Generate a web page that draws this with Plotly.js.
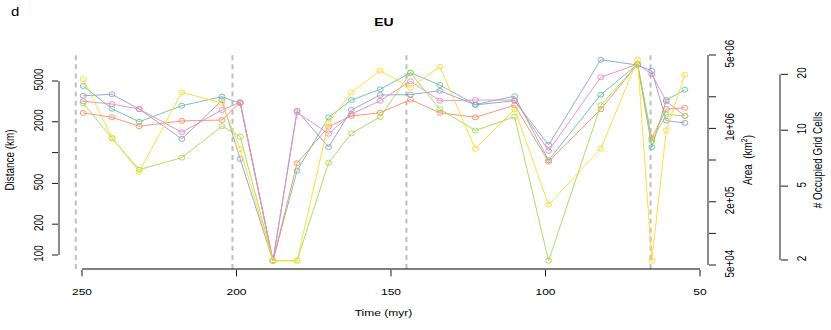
<!DOCTYPE html>
<html><head><meta charset="utf-8">
<script src="https://cdn.plot.ly/plotly-3.0.1.min.js"></script>
<style>
html,body{margin:0;padding:0;background:#fff;overflow:hidden;}
#wrap{width:831px;height:330px;overflow:hidden;position:relative;background:#fff;}
#chart{width:831px;height:400px;transform:scaleY(0.825);transform-origin:0 0;}
</style></head><body>
<div id="wrap"><div id="chart"></div></div>
<script>
// ---- data (time in myr, distance in km) ----
const time = [249.6, 240.3, 231.5, 217.7, 204.7, 198.8, 188.2, 180.4, 170.2, 162.8, 153.5,
              143.7, 134.2, 122.7, 110.0, 99.0, 82.1, 70.2, 65.6, 60.9, 54.9];
const tealVals   = [4470, 2680, 2000, 2870, 3520, 3030, 88, 666, 2210, 3260, 4150,
                    6030, 4570, 2950, 3550, 841, 3680, 7300, 1130, 3260, 4110];
const orangeVals = [2440, 2210, 1810, 2040, 2080, 3100, 88, 787, 1790, 2280, 2450,
                    3290, 2450, 2210, 2900, 815, 2650, 7300, 1380, 2660, 2740];
const blueVals   = [3590, 3710, 2660, 1360, 3240, 866, 88, 2560, 1130, 2610, 3650,
                    3680, 4020, 2920, 3210, 1190, 8070, 7160, 6270, 2050, 1950];
const pinkVals   = [3170, 2980, 2660, 1580, 2610, 3100, 88, 2480, 1530, 2380, 3210,
                    4970, 3210, 3260, 3260, 1040, 5440, 7300, 5820, 3170, 2280];
const greenVals  = [3030, 1380, 681, 892, 1810, 1430, 88, 88, 796, 1540, 2230,
                    6030, 2660, 1640, 2240, 88, 2900, 7300, 1300, 2350, 2280];
const yellowVals = [5230, 1400, 647, 3880, 3050, 1080, 88, 88, 1960, 3880, 6310,
                    4300, 6900, 1090, 2650, 310, 1090, 8070, 88, 1650, 5770];
const seriesNames  = ['Series 1', 'Series 2', 'Series 3', 'Series 4', 'Series 5', 'Series 6'];
const seriesColors = ['#66C2A5', '#FC8D62', '#8DA0CB', '#E78AC3', '#A6D854', '#FFD92F'];
const seriesVals   = [tealVals, orangeVals, blueVals, pinkVals, greenVals, yellowVals];
const boundaries = [252, 201.3, 145, 66];
const xTicks = [250, 200, 150, 100, 50];
const distTicks = [100, 200, 500, 2000, 5000];
const distMinor = [1000];
const areaTicks = [5e4, 2e5, 1e6, 5e6];
const areaLabels = ['5e+04', '2e+05', '1e+06', '5e+06'];
const areaMinor = [1e5, 5e5, 2e6];
const cellTicks = [2, 5, 10, 20];

// ---- geometry ----
const W = 831, H = 400, S = 330 / H;
const L = 59, R = 20, T = 62, B = 74;
const plotW = W - L - R, plotH = H - T - B;
const xDomEnd = (708 - L) / plotW;
const x3Pos = (780 - L) / plotW;
const xRange = [257.44, 47.41];
const yRange = [1.8638, 3.9907];
const y2Range = [4.6614, 6.7357];
const y3Range = [0.2527, 1.4260];
const pxX = px => (px - L) / plotW;
const pxY = py => (H - B - py / S) / plotH;
const xP = v => xDomEnd * (v - xRange[0]) / (xRange[1] - xRange[0]);
const yP = (v, r) => (Math.log10(v) - r[0]) / (r[1] - r[0]);

const FONT = 'Liberation Sans, Arial, Helvetica, sans-serif';

const traces = seriesVals.map((vals, i) => ({
  type: 'scatter', mode: 'lines+markers', name: seriesNames[i],
  x: time, y: vals, xaxis: 'x', yaxis: 'y',
  line: {color: seriesColors[i], width: 1},
  marker: {symbol: 'circle-open', size: 6, color: seriesColors[i], line: {width: 1, color: seriesColors[i]}},
  showlegend: false, hoverinfo: 'x+y'
}));
// empty traces so the two extra right-hand axes get drawn
traces.push({type: 'scatter', x: [], y: [], yaxis: 'y2', showlegend: false, hoverinfo: 'skip'});
traces.push({type: 'scatter', x: [], y: [], yaxis: 'y3', showlegend: false, hoverinfo: 'skip'});

const axLine = {color: '#000', width: 1};
const shapes = boundaries.map(b => ({
  type: 'line', xref: 'x', yref: 'paper', x0: b, x1: b, y0: 0, y1: 1,
  line: {color: '#BEBEBE', width: 2, dash: '6px,5px'}, layer: 'below'
}));
shapes.push({type: 'line', xref: 'paper', yref: 'paper', x0: xP(250), x1: xP(50), y0: 0, y1: 0, line: {color: '#000', width: 1.2}});
shapes.push({type: 'line', xref: 'paper', yref: 'paper', x0: 0, x1: 0, y0: yP(100, yRange), y1: yP(5000, yRange), line: axLine});
shapes.push({type: 'line', xref: 'paper', yref: 'paper', x0: xDomEnd, x1: xDomEnd, y0: yP(5e4, y2Range), y1: yP(5e6, y2Range), line: axLine});
shapes.push({type: 'line', xref: 'paper', yref: 'paper', x0: x3Pos, x1: x3Pos, y0: yP(2, y3Range), y1: yP(20, y3Range), line: axLine});

const tickFont = {family: FONT, size: 12, color: '#000'};
const titleFont = {family: FONT, size: 12, color: '#000'};
const common = {showgrid: false, zeroline: false, showline: false, ticks: 'outside', tickcolor: '#000',
                tickwidth: 1, automargin: false, tickfont: tickFont, fixedrange: true};
const minorOf = (vals, len) => ({tickmode: 'array', tickvals: vals, ticks: 'outside', ticklen: len,
                                 tickcolor: '#000', tickwidth: 1, showgrid: false});

const layout = {
  width: W, height: H,
  margin: {l: L, r: R, t: T, b: B, autoexpand: false},
  paper_bgcolor: '#fff', plot_bgcolor: 'rgba(0,0,0,0)',
  showlegend: false,
  font: {family: FONT, size: 12, color: '#000'},
  title: {text: '<b>EU</b>', font: {family: FONT, size: 14, color: '#000'},
          xref: 'paper', x: pxX(384), xanchor: 'center', yref: 'container', y: 1 - (22 / S) / H, yanchor: 'middle'},
  xaxis: Object.assign({}, common, {domain: [0, xDomEnd], range: xRange, tickmode: 'array', tickvals: xTicks,
          ticktext: xTicks.map(String), ticklen: 8, ticklabelstandoff: 8,
          title: {text: 'Time (myr)', font: titleFont, standoff: 15}}),
  yaxis: Object.assign({}, common, {type: 'log', range: yRange, tickmode: 'array', tickvals: distTicks,
          ticktext: distTicks.map(String), ticklen: 6, tickangle: -90, ticklabelstandoff: 4,
          minor: minorOf(distMinor, 6), title: {text: 'Distance (km)', font: titleFont, standoff: 14}}),
  yaxis2: Object.assign({}, common, {type: 'log', range: y2Range, overlaying: 'y', side: 'right', anchor: 'x',
          tickmode: 'array', tickvals: areaTicks, ticktext: areaLabels, ticklen: 7, tickangle: -90, ticklabelstandoff: 4,
          minor: minorOf(areaMinor, 7), title: {text: 'Area  (km<sup>2</sup>)', font: titleFont, standoff: 7}}),
  yaxis3: Object.assign({}, common, {type: 'log', range: y3Range, overlaying: 'y', side: 'right', anchor: 'free',
          position: x3Pos, tickmode: 'array', tickvals: cellTicks, ticktext: cellTicks.map(String), ticklen: 7,
          tickangle: -90, ticklabelstandoff: 4, title: {text: '# Occupied Grid Cells', font: titleFont, standoff: 5}}),
  shapes: shapes,
  annotations: [
    {text: 'd', xref: 'paper', yref: 'paper', x: pxX(15), y: pxY(12), showarrow: false, xanchor: 'center', yanchor: 'middle',
     font: {family: FONT, size: 15, color: '#000'}}
  ]
};

Plotly.newPlot('chart', traces, layout, {staticPlot: true, displayModeBar: false});
</script>
</body></html>
